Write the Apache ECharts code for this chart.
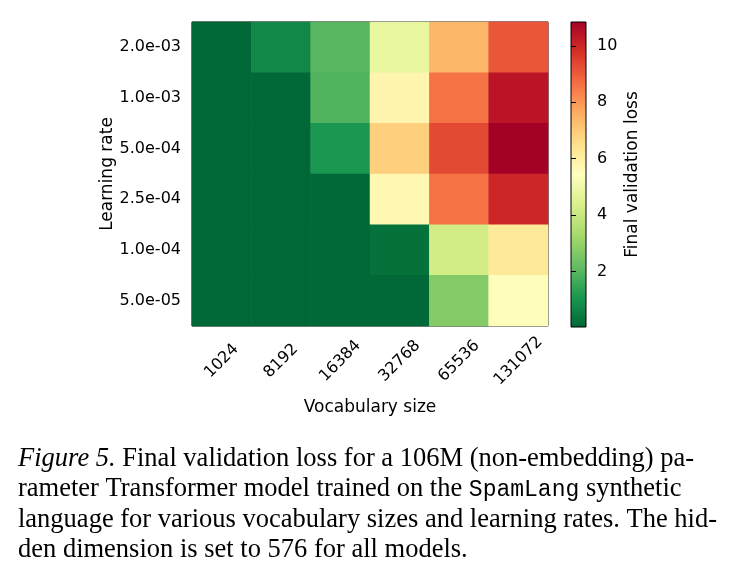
<!DOCTYPE html>
<html lang="en">
<head>
    <meta charset="UTF-8">
    <title>Final validation loss heatmap</title>
    <script src="https://cdn.jsdelivr.net/npm/echarts@6/dist/echarts.min.js"></script>
    <style>
        html, body {
            margin: 0;
            padding: 0;
            background: #fff;
        }
        #chart {
            width: 739px;
            height: 579px;
        }
    </style>
</head>
<body>
<div id="chart"></div>
<script>
    // vocabulary sizes (x) and learning rates (y, top row first as in the figure)
    var vocabSizes = ["1024", "8192", "16384", "32768", "65536", "131072"];
    var learningRates = ["2.0e-03", "1.0e-03", "5.0e-04", "2.5e-04", "1.0e-04", "5.0e-05"];

    // final validation loss, one row per learning rate (same order as above)
    var loss_2e3 = [0.05, 0.75, 2.0, 4.8, 7.4, 9.1];
    var loss_1e3 = [0.04, 0.04, 1.9, 5.8, 8.6, 10.4];
    var loss_5e4 = [0.04, 0.04, 1.1, 6.9, 9.3, 10.85];
    var loss_25e5 = [0.03, 0.04, 0.05, 5.7, 8.6, 10.0];
    var loss_1e4 = [0.03, 0.03, 0.04, 0.25, 4.2, 6.2];
    var loss_5e5 = [0.03, 0.03, 0.03, 0.06, 2.7, 5.5];
    var lossRows = [loss_2e3, loss_1e3, loss_5e4, loss_25e5, loss_1e4, loss_5e5];

    var colorbarTicks = [2, 4, 6, 8, 10];
    var lossMin = 0.03, lossMax = 10.85;

    // RdYlGn reversed
    var rdylgnR = ["#006837", "#1a9850", "#66bd63", "#a6d96a", "#d9ef8b", "#ffffbf",
        "#fee08b", "#fdae61", "#f46d43", "#d73027", "#a50026"];

    // y category axis runs bottom -> top, so flip
    var yCats = learningRates.slice().reverse();
    var cells = [];
    lossRows.forEach(function (row, r) {
        row.forEach(function (v, c) {
            cells.push([c, learningRates.length - 1 - r, v]);
        });
    });

    var stops = rdylgnR.map(function (col, i) {
        return {offset: i / (rdylgnR.length - 1), color: col};
    });

    var font = "DejaVu Sans";
    var capSize = 26.5;
    var serif = capSize + "px 'Liberation Serif'";
    var chart = echarts.init(document.getElementById("chart"));
    chart.setOption({
        animation: false,
        backgroundColor: "#fff",
        grid: [{
            left: 192, top: 22, width: 356, height: 304,
            show: true, borderColor: "#000", borderWidth: 1
        }, {
            left: 571, top: 22, width: 15, height: 305,
            show: true, borderColor: "#000", borderWidth: 1,
            backgroundColor: {type: "linear", x: 0, y: 1, x2: 0, y2: 0, colorStops: stops}
        }],
        xAxis: [{
            type: "category", data: vocabSizes, gridIndex: 0,
            name: "Vocabulary size", nameLocation: "middle", nameGap: 73,
            nameTextStyle: {fontFamily: font, fontSize: 17, color: "#000"},
            axisLine: {show: false},
            axisTick: {alignWithLabel: true, length: 5, lineStyle: {color: "#000"}},
            axisLabel: {
                rotate: 45, align: "center", verticalAlign: "middle",
                fontFamily: font, fontSize: 16, color: "#000", margin: 35
            },
            splitLine: {show: false}
        }, {
            type: "value", gridIndex: 1, show: false, min: 0, max: 1
        }],
        yAxis: [{
            type: "category", data: yCats, gridIndex: 0,
            name: "Learning rate", nameLocation: "middle", nameGap: 76,
            nameTextStyle: {fontFamily: font, fontSize: 17, color: "#000"},
            axisLine: {show: false},
            axisTick: {alignWithLabel: true, length: 5, lineStyle: {color: "#000"}},
            axisLabel: {fontFamily: font, fontSize: 16, color: "#000", margin: 11},
            splitLine: {show: false}
        }, {
            type: "value", gridIndex: 1, position: "right",
            min: lossMin, max: lossMax,
            name: "Final validation loss", nameLocation: "middle", nameGap: 38, nameRotate: 90,
            nameTextStyle: {fontFamily: font, fontSize: 17, color: "#000"},
            axisLine: {show: false},
            axisTick: {show: true, length: 5, customValues: colorbarTicks, lineStyle: {color: "#000"}},
            axisLabel: {fontFamily: font, fontSize: 16, color: "#000", margin: 11, customValues: colorbarTicks},
            splitLine: {show: false}
        }],
        visualMap: {
            show: false, type: "continuous", seriesIndex: 0,
            min: lossMin, max: lossMax, dimension: 2,
            inRange: {color: rdylgnR}
        },
        series: [{
            type: "heatmap", xAxisIndex: 0, yAxisIndex: 0,
            data: cells, itemStyle: {borderWidth: 0}
        }, {
            type: "scatter", xAxisIndex: 1, yAxisIndex: 1, data: []
        }],
        graphic: [{
            type: "text", left: 18, top: 446,
            style: {
                text: "{it|Figure 5.} Final validation loss for a 106M (non-embedding) pa-",
                font: serif, fill: "#000",
                rich: {it: {fontStyle: "italic", fontFamily: "Liberation Serif", fontSize: capSize}}
            }
        }, {
            type: "text", left: 18, top: 476,
            style: {
                text: "rameter Transformer model trained on the {mono|SpamLang} synthetic",
                font: serif, fill: "#000",
                rich: {mono: {fontFamily: "Liberation Mono", fontSize: 23}}
            }
        }, {
            type: "text", left: 18, top: 507,
            style: {
                text: "language for various vocabulary sizes and learning rates. The hid-",
                font: serif, fill: "#000"
            }
        }, {
            type: "text", left: 18, top: 537,
            style: {
                text: "den dimension is set to 576 for all models.",
                font: serif, fill: "#000"
            }
        }]
    });
</script>
</body>
</html>
